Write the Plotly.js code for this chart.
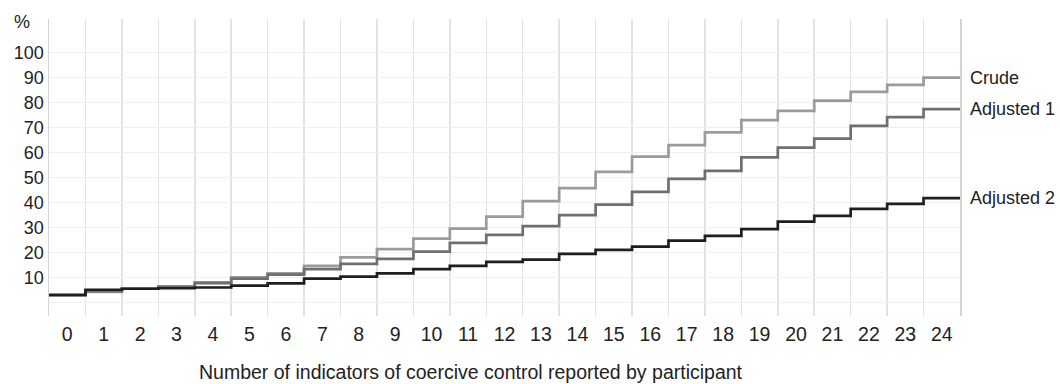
<!DOCTYPE html>
<html>
<head>
<meta charset="utf-8">
<script src="https://cdn.plot.ly/plotly-3.0.1.min.js"></script>
<style>html,body{margin:0;padding:0;background:#fff;}#chart{width:1060px;height:384px;}</style>
</head>
<body>
<div id="chart"></div>
<script>
// Number of indicators of coercive control (categories)
const categories = [0,1,2,3,4,5,6,7,8,9,10,11,12,13,14,15,16,17,18,19,20,21,22,23,24];
const tickLabels = categories.map(String);
const yTickVals = [0,10,20,30,40,50,60,70,80,90,100];
const yTickLabels = ["","10","20","30","40","50","60","70","80","90","100"];
const seriesNames = ["Crude","Adjusted 1","Adjusted 2"];
const crude = [2.7,4.2,5.5,6.5,8.1,10.1,11.7,14.7,18.1,21.4,25.6,29.6,34.4,40.6,45.8,52.3,58.4,63.0,68.1,73.0,76.7,80.8,84.3,87.1,90.0];
const adjusted1 = [2.9,4.5,5.5,6.3,7.8,9.6,11.2,13.4,15.5,17.5,20.4,23.9,27.1,30.6,35.0,39.2,44.3,49.5,52.7,58.1,62.0,65.6,70.7,74.2,77.4];
const adjusted2 = [3.1,5.1,5.5,5.7,6.0,6.8,7.7,9.6,10.4,11.7,13.4,14.7,16.3,17.2,19.5,21.1,22.4,24.8,26.7,29.4,32.4,34.7,37.5,39.5,41.8];

const colors = ["#9b9b9b","#6f6f6f","#1f1f1f"];
const FONT = "Liberation Sans, Arial, sans-serif";

function stepTrace(vals, name, color){
  const xs = categories.map(c => c - 0.5).concat([categories[categories.length-1] + 0.5]);
  const ys = vals.concat([vals[vals.length-1]]);
  return {x: xs, y: ys, name: name, type: "scatter", mode: "lines",
          line: {shape: "hv", color: color, width: 2.7}, hoverinfo: "skip"};
}
const allSeries = [crude, adjusted1, adjusted2];
const data = allSeries.map((s,i) => stepTrace(s, seriesNames[i], colors[i]));

const annotations = allSeries.map((s,i) => ({
  x: categories[categories.length-1] + 0.5, y: s[s.length-1], xref: "x", yref: "y",
  text: seriesNames[i], showarrow: false, xanchor: "left", yanchor: "middle",
  xshift: 8, font: {family: FONT, size: 18, color: "#222"}
}));
annotations.push({x: 0.463, y: -0.19, xref: "paper", yref: "paper", yanchor: "middle",
  text: "Number of indicators of coercive control reported by participant",
  showarrow: false, font: {family: FONT, size: 19.5, color: "#222"}});
annotations.push({x: -0.019, y: 0.99, xref: "paper", yref: "paper", xanchor: "right", yanchor: "middle",
  text: "%", showarrow: false, font: {family: FONT, size: 18, color: "#222"}});

const layout = {
  width: 1060, height: 384,
  margin: {l: 49, r: 100, t: 19, b: 68},
  paper_bgcolor: "#fff", plot_bgcolor: "#fff",
  showlegend: false,
  font: {family: FONT, color: "#222"},
  xaxis: {
    range: [-0.5, 24.5], tickmode: "array", tickvals: categories, ticktext: tickLabels,
    showgrid: false, zeroline: false, showline: false, ticks: "",
    ticklabelstandoff: 4,
    tickfont: {family: FONT, size: 19.5, color: "#222"},
    minor: {tick0: 0.5, dtick: 1, showgrid: true, gridcolor: "#e2e2e2", gridwidth: 1.5, ticks: ""},
    fixedrange: true
  },
  yaxis: {
    range: [-5.4, 113.5], tickmode: "array", tickvals: yTickVals, ticktext: yTickLabels,
    showgrid: true, gridcolor: "#efefef", gridwidth: 1.5, zeroline: false,
    showline: true, mirror: true, linecolor: "#d3d3d3", linewidth: 1.5, ticks: "",
    tickfont: {family: FONT, size: 18, color: "#222"}, fixedrange: true
  },
  annotations: annotations
};
Plotly.newPlot("chart", data, layout, {staticPlot: true, displayModeBar: false});
</script>
</body>
</html>
